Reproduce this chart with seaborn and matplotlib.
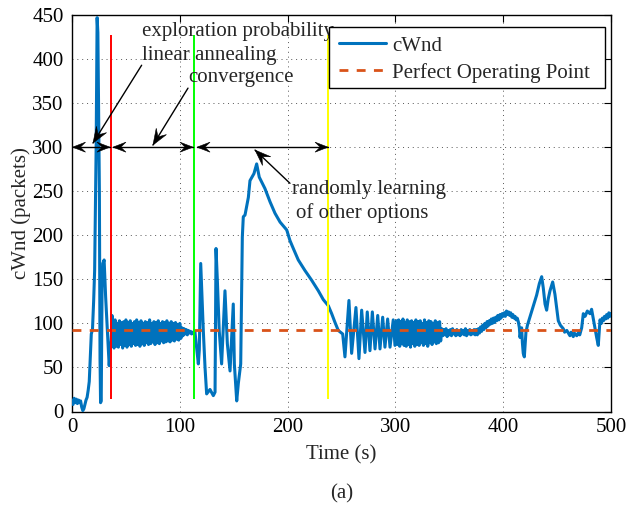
import matplotlib
matplotlib.use("Agg")
import matplotlib.pyplot as plt
from matplotlib.patches import Polygon, Rectangle
import numpy as np
import seaborn as sns
import pandas as pd

# ---------------- data ----------------
t_start = [0, 1, 2, 3, 4, 5, 6, 7, 8, 9, 10, 11, 12, 13, 14, 15, 16, 17, 17.9, 19, 20.1, 21, 22.4,
           23.3, 24.0, 25.4, 26.0, 26.5, 27.1, 27.9, 28.6, 29.8, 31.2, 32.4, 33.5, 34.5, 35.5, 36.3, 37.1]
v_start = [12, 8, 15, 10, 14, 9, 13, 10, 12, 5, 1, 3, 8, 13, 16, 24, 34, 62, 88, 93, 126, 160, 300,
           447, 430, 250, 60, 10, 12, 140, 168, 172, 130, 102, 75, 52, 70, 80, 109]

t_band1 = [38, 39, 40, 41, 42, 43, 44, 45, 46, 47, 48, 49, 50, 51, 52, 53, 54, 55, 56, 57, 58, 59,
           60, 61, 62, 63, 64, 65, 66, 67, 68, 69, 70, 71, 72, 73, 74, 75, 76, 77, 78, 79, 80, 81,
           82, 83, 84, 85, 86, 87, 88, 89, 90, 91, 92, 93, 94, 95, 96, 97, 98, 99, 100, 101]
v_band1 = [101, 72, 104, 74, 100, 73, 103, 76, 101, 72, 102, 75, 104, 73, 101, 76, 103, 74, 100, 77,
           102, 75, 104, 76, 101, 74, 103, 77, 100, 75, 102, 78, 101, 76, 104, 77, 100, 79, 102, 76,
           101, 78, 103, 77, 100, 80, 102, 78, 101, 79, 103, 80, 100, 79, 102, 81, 100, 80, 101, 82,
           99, 81, 100, 83]

t_conv = [102, 103, 104, 105, 106, 107, 108, 109, 110, 111, 112, 113, 114]
v_conv = [95, 86, 94, 88, 93, 87, 92, 89, 91, 88, 90, 89, 91]

t_learn = [117.2, 118.1, 119.4, 121.8, 123.4, 124.9, 128, 131.1, 132.7, 133.6, 134.8, 136.6, 138.8,
           141.9, 144.1, 146.6, 149.6, 150.6, 152.8, 154.3, 156.5, 158, 158.9, 160.5, 163.6, 165.1,
           168.8, 171.3, 173.7, 179, 183.7, 188.3, 193, 199.2, 202.2, 205.3, 209.9, 216.1, 222.3,
           228.5, 233.1, 237.8, 240.9, 244, 247, 251.1, 253.2, 256.9, 259.4, 263.4, 266.2, 268.7,
           271.8, 273.9, 276.4, 278.6, 281.1, 283.6, 285.7, 288.2, 290.3, 292.8, 295, 298, 299.6]
v_learn = [54, 70, 168, 92, 50, 20, 25, 18, 22, 185, 150, 91, 54, 137, 77, 46, 122, 54, 12, 32,
           54, 198, 221, 223, 243, 262, 270, 281, 266, 253, 238, 225, 215, 206, 194, 185, 172, 160,
           149, 137, 127, 120, 111, 101, 92, 88, 62, 126, 66, 118, 60, 115, 67, 113, 69, 113, 71,
           109, 71, 107, 73, 105, 73, 104, 75]

t_band2 = [301, 302, 303, 304, 305, 306, 307, 308, 309, 310, 311, 312, 313, 314, 315, 316, 317, 318,
           319, 320, 321, 322, 323, 324, 325, 326, 327, 328, 329, 330, 331, 332, 333, 334, 335, 336,
           337, 338, 339, 340, 341, 342]
v_band2 = [103, 76, 104, 74, 102, 77, 105, 75, 101, 74, 104, 76, 102, 73, 103, 77, 101, 74, 104, 76,
           102, 75, 103, 78, 100, 75, 104, 77, 101, 74, 103, 78, 102, 76, 100, 79, 103, 77, 101, 78,
           102, 80]

t_flat = [343, 344, 345, 346, 347, 348, 349, 350, 351, 352, 353, 354, 355, 356, 357, 358, 359, 360,
          361, 362, 363, 364, 365, 366, 367, 368, 369, 370, 371, 372, 373, 374]
v_flat = [94, 86, 93, 87, 94, 85, 92, 87, 93, 86, 94, 88, 92, 86, 93, 87, 91, 86, 93, 88, 92, 87,
          94, 86, 92, 88, 93, 87, 92, 88, 93, 87]

t_rise = [375, 376, 377, 378, 379, 380, 381, 382, 383, 384, 385, 386, 387, 388, 389, 390, 391, 392,
          393, 394, 395, 396, 397, 398, 399, 400]
v_rise = [93, 87, 94, 89, 96, 91, 98, 93, 100, 95, 102, 97, 103, 99, 105, 100, 106, 101, 107, 103,
          109, 104, 110, 106, 111, 108]

t_end = [401, 402, 403, 404, 405, 406, 407, 408, 409, 410, 411, 412, 413, 414, 415, 415.6, 416.3,
         417.1, 417.8, 418.6, 419.6, 421.1, 422.5, 424.8, 426, 427.5, 429.5, 431, 433.5, 435.7,
         437.2, 438.8, 440.3, 441.8, 443.4, 445.9, 448, 451.1, 453, 455.7, 457, 459, 461.9, 463,
         465, 466, 468.2, 470, 471, 472.8, 474.3, 476, 478, 480.5, 482, 483.6, 485, 486.7, 488.2,
         489.8, 491, 492, 493, 494, 495, 496, 497, 498, 499, 500]
v_end = [112, 108, 114, 110, 113, 109, 112, 107, 110, 106, 108, 104, 106, 102, 95, 84, 90, 95, 78,
         66, 62, 90, 98, 107, 112, 118, 126, 132, 145, 153, 140, 122, 115, 128, 137, 147, 133, 103,
         98, 94, 90, 92, 86, 90, 85, 89, 86, 90, 87, 95, 111, 108, 114, 111, 116, 105, 96, 84, 75,
         104, 100, 106, 103, 108, 105, 110, 106, 112, 108, 111]

op_time = [0, 500]
op_value = [93, 93]

phase_times = [35.9, 113.4, 237.4]
phase_colors = ["#FF0000", "#00FF00", "#FFFF00"]
phase_low, phase_high = 14, 427

x_ticks = [0, 100, 200, 300, 400, 500]
y_ticks = [0, 50, 100, 150, 200, 250, 300, 350, 400, 450]

time_s = t_start + t_band1 + t_conv + t_learn + t_band2 + t_flat + t_rise + t_end
cwnd = v_start + v_band1 + v_conv + v_learn + v_band2 + v_flat + v_rise + v_end
df = pd.DataFrame({"Time (s)": time_s, "cWnd": cwnd})
df_op = pd.DataFrame({"Time (s)": op_time, "cWnd": op_value})

# ---------------- style ----------------
sns.set_style("white")
plt.rcParams["font.family"] = ["Liberation Serif", "DejaVu Serif"]
FS = 15

fig = plt.figure(figsize=(6.3, 5.09), dpi=100)
ax = fig.add_axes([72 / 630, 1 - 411.5 / 509, 539 / 630, 396.5 / 509])
ax.set_xlim(0, 500)
ax.set_ylim(0, 450)

sns.lineplot(data=df, x="Time (s)", y="cWnd", ax=ax, color="#0072BD", lw=2.2,
             estimator=None, sort=False, label="cWnd", zorder=3)
sns.lineplot(data=df_op, x="Time (s)", y="cWnd", ax=ax, color="#D95319", lw=2,
             linestyle=(0, (3.2, 3)), estimator=None, sort=False,
             label="Perfect Operating Point", zorder=4)
ax.vlines(phase_times, phase_low, phase_high, colors=phase_colors, lw=1.4, zorder=5)


def arrow_head(tip, tail, L, W, notch=0.6):
    """Concave (MATLAB 'vback') arrow head drawn in pixel space."""
    p_tip = ax.transData.transform(tip)
    p_tail = ax.transData.transform(tail)
    d = p_tip - p_tail
    d = d / np.hypot(*d)
    n = np.array([-d[1], d[0]])
    pts = np.array([p_tip, p_tip - L * d + W * n, p_tip - notch * L * d, p_tip - L * d - W * n])
    ax.add_patch(Polygon(ax.transData.inverted().transform(pts), closed=True,
                         fc="black", ec="black", lw=0.4, zorder=6))


def draw_arrow(tail, tip, double=False, L=13, W=5):
    ax.plot([tail[0], tip[0]], [tail[1], tip[1]], color="black", lw=1, zorder=6)
    arrow_head(tip, tail, L, W)
    if double:
        arrow_head(tail, tip, L, W)


for x0, x1 in [(0.5, 35.2), (38, 112.2), (116, 237.5)]:
    draw_arrow((x0, 300), (x1, 300), double=True)

draw_arrow((64.6, 393), (19.5, 304.7), L=16, W=6)
draw_arrow((107.6, 367), (75.1, 302.4), L=16, W=6)
draw_arrow((202.2, 259), (169.8, 296.7), L=16, W=6)

ax.text(64.6, 431, "exploration probability", fontsize=FS, ha="left", va="center", zorder=7)
ax.text(64.6, 404.6, "linear annealing", fontsize=FS, ha="left", va="center", zorder=7)
ax.text(107.8, 379.6, "convergence", fontsize=FS, ha="left", va="center", zorder=7)
ax.text(204, 251.4, "randomly learning", fontsize=FS, ha="left", va="center", zorder=7)
ax.text(207.5, 225.3, "of other options", fontsize=FS, ha="left", va="center", zorder=7)

ax.set_xticks(x_ticks)
ax.set_yticks(y_ticks)
ax.grid(True, linestyle=(0, (1, 4)), color="#555555", lw=0.7)
ax.set_axisbelow(True)
ax.tick_params(direction="in", length=5, width=0.8, top=True, right=True,
               labelsize=FS, colors="black")
ax.tick_params(axis="x", pad=5)
ax.tick_params(axis="y", pad=6)
for sp in ax.spines.values():
    sp.set_visible(True)
    sp.set_color("black")
    sp.set_linewidth(1)

ax.set_xlabel("Time (s)", fontsize=FS, va="center")
ax.set_ylabel("cWnd (packets)", fontsize=FS, va="center")
ax.xaxis.set_label_coords(0.5, (411.5 - 455) / 396.5)
ax.yaxis.set_label_coords((21 - 72) / 539, 0.5)

# legend box (MATLAB style, wider padding on the right)
ax.add_patch(Rectangle(((329 - 72) / 539, (411.5 - 88) / 396.5), 276 / 539, 61 / 396.5,
                       transform=ax.transAxes, fc="white", ec="black", lw=1, zorder=9,
                       clip_on=False))
leg = ax.legend(loc="upper left", bbox_to_anchor=((339 - 72) / 539, (411.5 - 36) / 396.5),
                fontsize=FS, frameon=False, borderaxespad=0, borderpad=0,
                handlelength=2.25, handletextpad=0.3, labelspacing=0.35)
leg.set_zorder(10)

fig.text(341.5 / 630, 1 - 494 / 509, "(a)", fontsize=FS, ha="center", va="center")

fig.savefig("out.png", dpi=100)
